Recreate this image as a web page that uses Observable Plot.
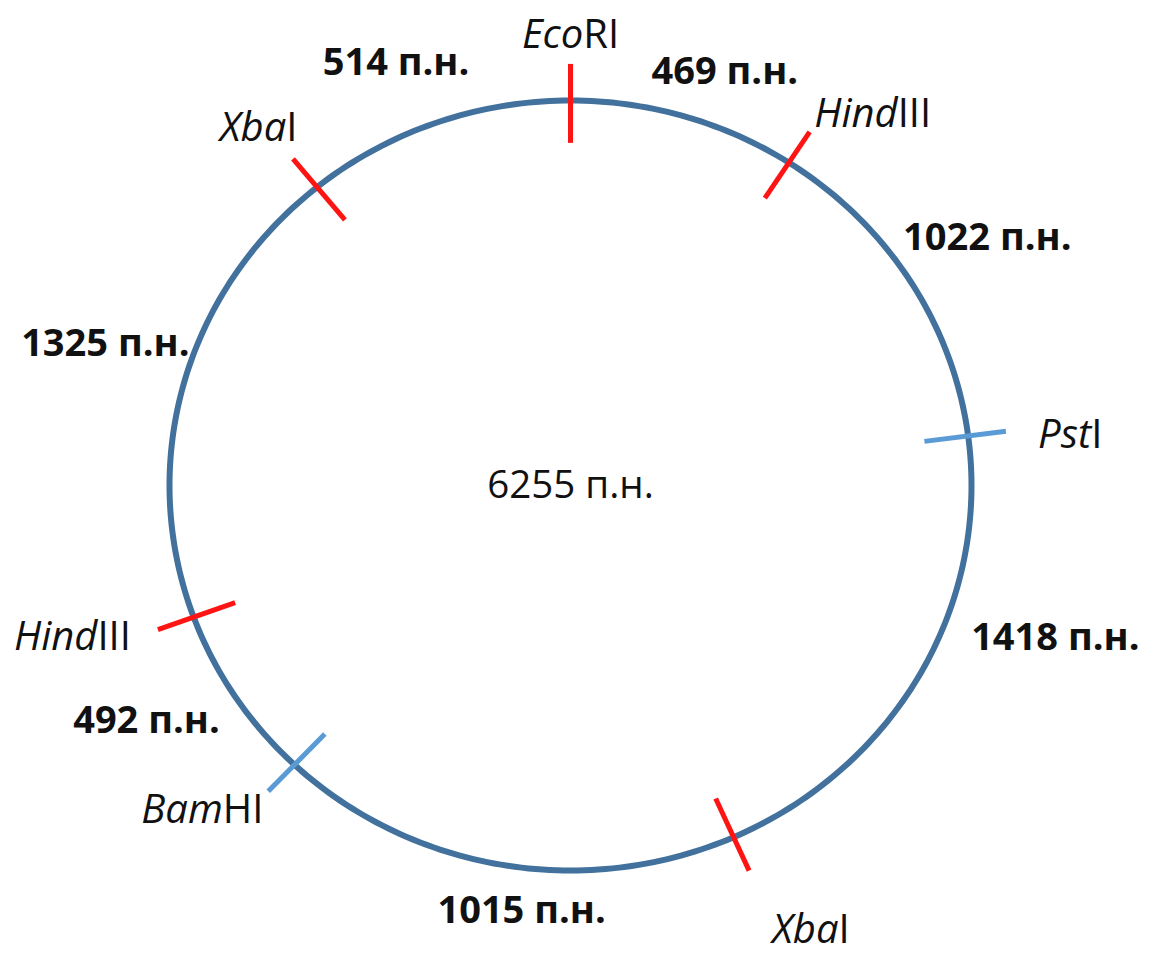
<!DOCTYPE html>
<html>
<head>
<meta charset="utf-8">
<script src="https://cdn.jsdelivr.net/npm/d3@7"></script>
<script src="https://cdn.jsdelivr.net/npm/@observablehq/plot@0.6"></script>
<style>
  body { margin: 0; background: #fff; }
  #chart svg { display: block; }
</style>
</head>
<body>
<div id="chart"></div>
<script>
// ---- data ----
const plasmidSize = 6255;
const unit = "п.н.";

// restriction sites (angle in degrees, clockwise from top, as drawn)
const siteNames   = ["EcoRI", "HindIII", "PstI", "XbaI", "BamHI", "HindIII", "XbaI"];
const siteItalic  = ["Eco",   "Hind",    "Pst",  "Xba",  "Bam",   "Hind",    "Xba"];
const siteAngle   = [0, 33, 82.6, 156, 223.5, 250, 320.8];
const siteGroup   = ["A", "A", "B", "A", "B", "A", "A"];
const siteLabelAngle  = [0, 38, 84, 152.6, 227.4, 252.4, 320];
const siteLabelRadius = [1.17, 1.224, 1.253, 1.302, 1.247, 1.303, 1.21];

// fragments between consecutive sites
const fragmentSizes       = [469, 1022, 1418, 1015, 492, 1325, 514];
const fragmentLabelAngle  = [19.7, 58.2, 108.1, 186.3, 240, 287.6, 338.4];
const fragmentLabelRadius = [1.142, 1.223, 1.272, 1.111, 1.221, 1.217, 1.182];

// ---- layout ----
const W = 1151, H = 965;
const cx = 570, cy = 485, rx = 401, ry = 385;
const rIn = 0.89, rOut = 1.095;

const rad = a => a * Math.PI / 180;
const px = (a, r) => r * Math.sin(rad(a));
const py = (a, r) => r * Math.cos(rad(a));

const ring = d3.range(0, 361, 1).map(a => ({x: px(a, 1), y: py(a, 1)}));
const sites = siteNames.map((name, i) => ({
  name, italic: siteItalic[i], angle: siteAngle[i], group: siteGroup[i],
  la: siteLabelAngle[i], lr: siteLabelRadius[i]
}));
const fragments = fragmentSizes.map((size, i) => ({
  size, la: fragmentLabelAngle[i], lr: fragmentLabelRadius[i]
}));

const chart = Plot.plot({
  width: W,
  height: H,
  margin: 0,
  x: {domain: [-cx / rx, (W - cx) / rx], axis: null},
  y: {domain: [-(H - cy) / ry, cy / ry], axis: null},
  color: {domain: ["A", "B"], range: ["#ff1414", "#5b9bd5"]},
  style: {fontFamily: "'Open Sans', sans-serif", background: "#fff", color: "#111"},
  marks: [
    Plot.line(ring, {x: "x", y: "y", stroke: "#41719c", strokeWidth: 6}),
    Plot.link(sites, {
      x1: d => px(d.angle, rIn), y1: d => py(d.angle, rIn),
      x2: d => px(d.angle, rOut), y2: d => py(d.angle, rOut),
      stroke: "group", strokeWidth: 5
    }),
    Plot.text(sites, {
      x: d => px(d.la, d.lr), y: d => py(d.la, d.lr),
      text: "name", fontSize: 40, fill: "#111"
    }),
    Plot.text(fragments, {
      x: d => px(d.la, d.lr), y: d => py(d.la, d.lr),
      text: d => `${d.size} ${unit}`, fontSize: 38, fontWeight: "bold", fill: "#111"
    }),
    Plot.text([plasmidSize], {
      x: 0, y: 0, text: d => `${d} ${unit}`, fontSize: 38.5, fill: "#111"
    })
  ]
});

// italicise the enzyme-genus part of each site label
const splitMap = new Map(siteNames.map((n, i) => [n, siteItalic[i]]));
chart.querySelectorAll("text").forEach(t => {
  const s = t.textContent;
  if (splitMap.has(s)) {
    const it = splitMap.get(s);
    t.textContent = "";
    const ns = "http://www.w3.org/2000/svg";
    const a = document.createElementNS(ns, "tspan");
    a.setAttribute("font-style", "italic");
    a.textContent = it;
    const b = document.createElementNS(ns, "tspan");
    b.textContent = s.slice(it.length);
    t.appendChild(a);
    t.appendChild(b);
  }
});

document.getElementById("chart").appendChild(chart);
</script>
</body>
</html>
